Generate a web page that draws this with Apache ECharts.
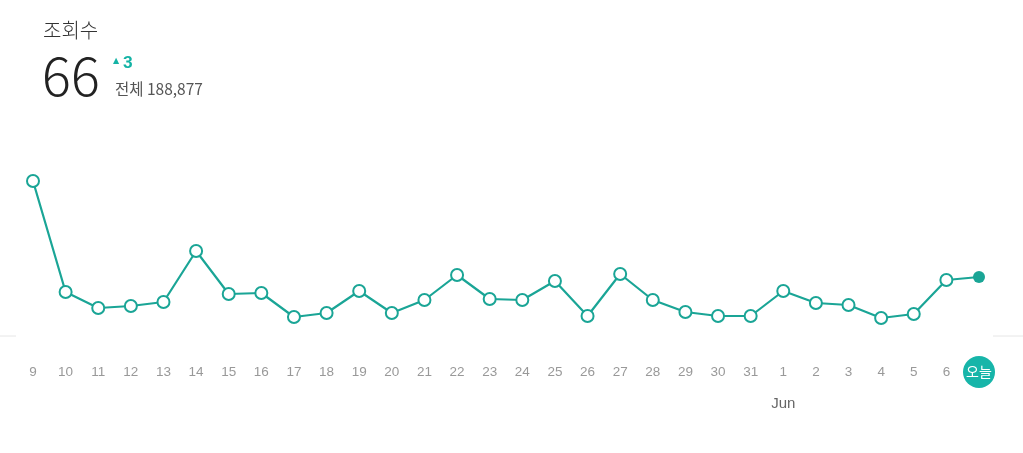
<!DOCTYPE html>
<html><head><meta charset="utf-8">
<script src="https://cdn.jsdelivr.net/npm/echarts@6/dist/echarts.min.js"></script>
<style>html,body{margin:0;padding:0;background:#fff}#c{width:1023px;height:453px}</style>
</head><body><div id="c"></div>
<script>
const categories = ['9','10','11','12','13','14','15','16','17','18','19','20','21','22','23','24','25','26','27','28','29','30','31','1','2','3','4','5','6','오늘'];
const views = [162,51,35,37,41,92,49,50,26,30,52,30,43,68,44,43,62,27,69,43,31,27,27,52,40,38,25,29,63,66];
const monthLabels = {'1':'Jun'};
const title = '조회수';
const todayValue = 66;
const delta = 3;
const total = '188,877';

const teal = '#1aa596';
const chart = echarts.init(document.getElementById('c'));
const lastIdx = views.length - 1;
chart.setOption({
  animation:false,
  grid:{left:33,right:44,top:143,bottom:110},
  xAxis:{type:'category',data:categories,boundaryGap:false,
    axisLine:{show:false},axisTick:{show:false},
    axisLabel:{interval:0,margin:13,color:'#999',fontSize:13.5,fontFamily:'Liberation Sans, Arial, sans-serif',lineHeight:32,
      formatter:function(v){
        if(v==='오늘') return '{t|'+v+'}';
        if(monthLabels[v]) return v+'\n{m|'+monthLabels[v]+'}';
        return v;
      },
      rich:{
        t:{backgroundColor:'#17b5a9',color:'#fff',width:32,height:32,borderRadius:16,align:'center',verticalAlign:'middle',fontSize:14,fontFamily:'Noto Sans CJK KR',lineHeight:32},
        m:{color:'#666',fontSize:15,lineHeight:32,fontFamily:'Liberation Sans, Arial, sans-serif'}
      }}},
  yAxis:{type:'value',min:0,max:200,show:false,splitLine:{show:false}},
  series:[{type:'line',data:views.map((v,i)=> i===lastIdx?{value:v,symbol:'circle',itemStyle:{color:teal}}:v),
    symbol:'emptyCircle',symbolSize:12,showSymbol:true,showAllSymbol:true,
    lineStyle:{color:teal,width:2.2},
    itemStyle:{color:teal,borderWidth:2.2}}],
  graphic:[
    {type:'line',shape:{x1:0,y1:336,x2:16,y2:336},style:{stroke:'#e6e6e6',lineWidth:1}},
    {type:'line',shape:{x1:993,y1:336,x2:1023,y2:336},style:{stroke:'#e6e6e6',lineWidth:1}},
    {type:'text',left:43,top:20,style:{text:title,fontSize:20,fill:'#333',fontFamily:'Noto Sans CJK KR',fontWeight:300}},
    {type:'text',left:42,top:48,style:{text:String(todayValue),fontSize:54,fill:'#222',fontFamily:'Noto Sans CJK KR',fontWeight:300}},
    {type:'text',left:113,top:57,style:{text:'▲',fontSize:8,fill:'#14b3a5',fontFamily:'DejaVu Sans'}},
    {type:'text',left:123,top:55,style:{text:String(delta),fontSize:17,fontWeight:'bold',fill:'#14b3a5',fontFamily:'Roboto'}},
    {type:'text',left:115,top:81,style:{text:'전체 '+total,fontSize:15.5,fill:'#555',fontFamily:'Noto Sans CJK KR'}}
  ]
});
</script></body></html>
